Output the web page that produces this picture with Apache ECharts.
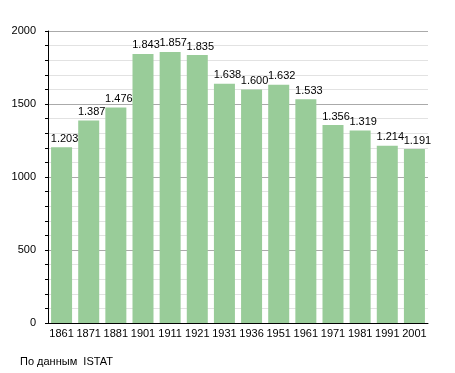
<!DOCTYPE html>
<html><head><meta charset="utf-8">
<script src="https://cdn.jsdelivr.net/npm/echarts@6/dist/echarts.min.js"></script>
<style>html,body{margin:0;padding:0;background:#fff}#c{width:455px;height:373px}</style>
</head><body><div id="c"></div>
<script>
var years = ['1861','1871','1881','1901','1911','1921','1931','1936','1951','1961','1971','1981','1991','2001'];
var population = [1203,1387,1476,1843,1857,1835,1638,1600,1632,1533,1356,1319,1214,1191];
var yTicks = [0,500,1000,1500,2000];
var sourceText = 'По данным  ISTAT';

var font = 'Liberation Sans, Arial, sans-serif';
var chart = echarts.init(document.getElementById('c'), null, {renderer:'canvas'});
chart.setOption({
  animation:false,
  backgroundColor:'#ffffff',
  grid:{left:48, right:27, top:31, bottom:50, containLabel:false},
  graphic:[{type:'text', left:20, top:356, style:{text:sourceText, font:'11px '+font, fill:'#000'}}],
  xAxis:{type:'category', data:years, boundaryGap:true,
    axisLine:{lineStyle:{color:'#000', width:1}}, axisTick:{show:false},
    axisLabel:{color:'#000', fontSize:11, fontFamily:font, margin:5, interval:0}},
  yAxis:{type:'value', min:yTicks[0], max:yTicks[yTicks.length-1], interval:500,
    axisLine:{show:true, lineStyle:{color:'#000'}},
    axisTick:{show:true, length:3, lineStyle:{color:'#000'}},
    minorTick:{show:true, splitNumber:5, length:3, lineStyle:{color:'#000'}},
    splitLine:{show:true, lineStyle:{color:'#aaaaaa', width:1}},
    minorSplitLine:{show:true, lineStyle:{color:'#e2e2e2', width:1}},
    axisLabel:{color:'#000', fontSize:11, fontFamily:font, margin:12, formatter:function(v){return String(v);}}},
  series:[{type:'bar', data:population, barWidth:21,
    itemStyle:{color:'#99cc99'},
    label:{show:true, position:'top', distance:3, offset:[3,0], color:'#000', fontSize:11, fontFamily:font,
      formatter:function(p){var v=String(p.value);return v.length>3?v.slice(0,v.length-3)+'.'+v.slice(-3):v;}}
  }]
});
</script></body></html>
